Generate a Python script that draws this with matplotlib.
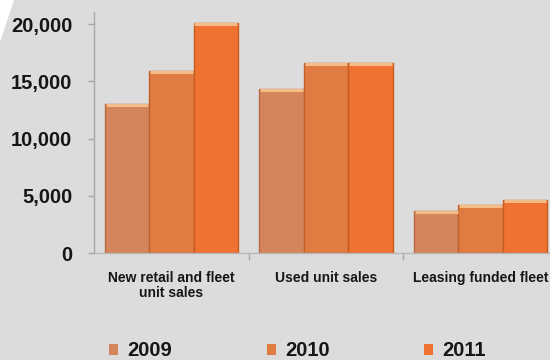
import matplotlib
matplotlib.use("Agg")
import matplotlib.pyplot as plt
from matplotlib.patches import Polygon, Patch
import numpy as np

plt.rcParams['font.family'] = ['Liberation Sans', 'DejaVu Sans']
plt.rcParams['font.weight'] = 'bold'

categories = ["New retail and fleet\nunit sales", "Used unit sales", "Leasing funded fleet"]
years = ["2009", "2010", "2011"]
values_2009 = [13000, 14300, 3700]
values_2010 = [15900, 16600, 4200]
values_2011 = [20100, 16600, 4600]
yticks = [0, 5000, 10000, 15000, 20000]
ytick_labels = ["0", "5,000", "10,000", "15,000", "20,000"]

series = [values_2009, values_2010, values_2011]
colors = ["#D5855B", "#E07B42", "#EF7231"]
edge_colors = ["#B8683F", "#C0612B", "#C95A1D"]
highlight = "#F6BC88"
bg = "#DDDCDC"

fig = plt.figure(figsize=(5.5, 3.6), dpi=100, facecolor=bg)
ax = fig.add_axes([94/550, 0.2972, (558-94)/550, 0.968-0.2972])
ax.set_facecolor(bg)

x = np.arange(len(categories))
width = 0.287
offsets = [-width, 0, width]
for vals, off, c, ec, lab in zip(series, offsets, colors, edge_colors, years):
    ax.bar(x + off, vals, width=width, color=c, edgecolor=ec, linewidth=1.0, label=lab, zorder=2)
    ax.hlines(np.array(vals) - 90, x + off - width/2 + 0.006, x + off + width/2 - 0.006,
              color=highlight, linewidth=2.2, zorder=3)

ax.set_xlim(-0.5, 2.5)
ax.set_ylim(0, 21100)
ax.set_yticks(yticks)
ax.set_yticklabels(ytick_labels, fontsize=14.5, fontweight='bold', color='#161616')
ax.tick_params(axis='y', length=4, width=1, color='#a8a8a8', pad=11.5)

ax.set_xticks(x)
ax.set_xticklabels(categories, fontsize=10, fontweight='bold', color='#161616', linespacing=1.1)
ax.tick_params(axis='x', length=0, pad=13)
ax.set_xticks([0.5, 1.5], minor=True)
ax.tick_params(axis='x', which='minor', length=5, width=1, color='#a8a8a8')

for s in ['top', 'right']:
    ax.spines[s].set_visible(False)
ax.spines['left'].set_color('#a8a8a8')
ax.spines['bottom'].set_color('#b8b8b8')
ax.spines['left'].set_linewidth(1.0)
ax.spines['bottom'].set_linewidth(1.0)

handles = [Patch(facecolor=c, edgecolor='none') for c in colors]
leg = fig.legend(handles, years, loc='center', bbox_to_anchor=(0.541, 0.025), ncol=3,
                 frameon=False, handlelength=0.45, handleheight=0.45, handletextpad=0.45,
                 columnspacing=4.7, prop={'size': 14.5, 'weight': 'bold'})
for t in leg.get_texts():
    t.set_color('#161616')

# white corner at the top-left of the picture
fig.patches.append(Polygon([[0, 1], [14/550, 1], [0, 1 - 42/360]], closed=True,
                           transform=fig.transFigure, facecolor='white', edgecolor='none'))

fig.savefig("out.png", dpi=100, facecolor=bg)
